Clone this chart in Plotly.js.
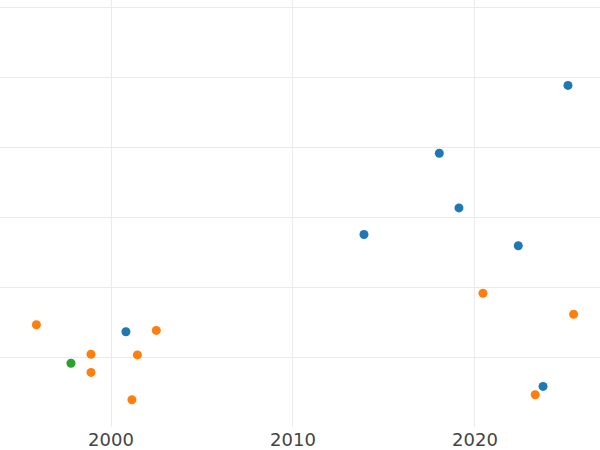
<!DOCTYPE html>
<html>
<head>
<meta charset="utf-8">
<script src="https://cdn.plot.ly/plotly-3.0.1.min.js"></script>
<style>html,body{margin:0;padding:0;background:#fff;}#chart{width:600px;height:450px;}</style>
</head>
<body>
<div id="chart"></div>
<script>
const blueX = [2025.11, 2018.04, 2019.12, 2013.90, 2022.38, 2000.82, 2023.74];
const blueY = [4.88, 3.91, 3.13, 2.75, 2.59, 1.36, 0.58];
const orangeX = [1995.90, 2002.49, 1998.90, 2001.45, 1998.90, 2001.15, 2020.44, 2025.42, 2023.31];
const orangeY = [1.46, 1.38, 1.04, 1.03, 0.78, 0.39, 1.91, 1.61, 0.46];
const greenX = [1997.80];
const greenY = [0.91];
const xTickVals = [2000, 2010, 2020];
const xTickText = ['2000', '2010', '2020'];

const mk = (x, y, c) => ({x: x, y: y, type: 'scatter', mode: 'markers',
  marker: {color: c, size: 9}, showlegend: false, hoverinfo: 'x+y'});

Plotly.newPlot('chart', [
  mk(blueX, blueY, '#1f77b4'),
  mk(orangeX, orangeY, '#ff7f0e'),
  mk(greenX, greenY, '#2ca02c')
], {
  width: 600, height: 450,
  margin: {l: 0, r: 0, t: 0, b: 23},
  paper_bgcolor: '#fff', plot_bgcolor: '#fff',
  font: {family: 'DejaVu Sans, sans-serif', color: '#444'},
  xaxis: {range: [1993.9, 2026.87], tickvals: xTickVals, ticktext: xTickText,
    showgrid: true, gridcolor: '#ebebeb', zeroline: false, showline: false,
    ticks: '', tickfont: {size: 18, color: '#444'}},
  yaxis: {range: [0, 6.1], tick0: 0, dtick: 1, showgrid: true, gridcolor: '#ebebeb',
    zeroline: false, showline: false, showticklabels: false, ticks: ''}
}, {displayModeBar: false, staticPlot: true});
</script>
</body>
</html>
